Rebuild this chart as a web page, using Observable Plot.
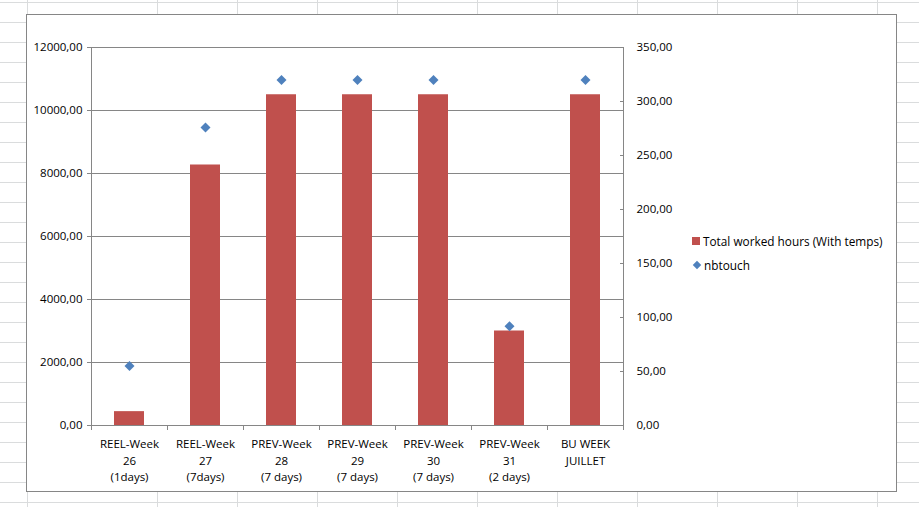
<!DOCTYPE html>
<html>
<head>
<meta charset="utf-8">
<script src="https://cdn.jsdelivr.net/npm/d3@7"></script>
<script src="https://cdn.jsdelivr.net/npm/@observablehq/plot@0.6"></script>
<style>
  html, body { margin: 0; padding: 0; background: #fff; }
  #page { position: relative; width: 919px; height: 507px; overflow: hidden; font-family: "Open Sans", sans-serif; }
  #rows { position: absolute; left: 0; top: 0; width: 919px; height: 507px;
    background-image: linear-gradient(to bottom, #dadcdd 1px, transparent 1px);
    background-size: 100% 20px; background-position: 0 2px; }
  #cols { position: absolute; left: 157px; top: 0; width: 762px; height: 507px;
    background-image: linear-gradient(to right, #dadcdd 1px, transparent 1px);
    background-size: 80px 100%; background-position: 0 0; }
  #col1 { position: absolute; left: 27px; top: 0; width: 1px; height: 507px; background: #dadcdd; }
  #frame { position: absolute; left: 26px; top: 14px; width: 869px; height: 476px; background: #fff; border: 1px solid #868686; }
  #chart { position: absolute; left: 27px; top: 14px; }
  #legend { position: absolute; left: 692px; top: 229px; font-size: 11.8px; color: #000; line-height: 24px; }
  #legend .item { display: flex; align-items: center; white-space: nowrap; }
  #legend .sq { width: 8px; height: 8px; background: #C0504D; margin-right: 3px; }
  #legend .dm { width: 6px; height: 6px; background: #4F81BD; transform: rotate(45deg); margin: 0 4px 0 2px; }
</style>
</head>
<body>
<div id="page">
  <div id="rows"></div>
  <div id="cols"></div>
  <div id="col1"></div>
  <div id="frame"></div>
  <div id="chart"></div>
  <div id="legend">
    <div class="item"><span class="sq"></span><span>Total worked hours (With temps)</span></div>
    <div class="item"><span class="dm"></span><span>nbtouch</span></div>
  </div>
</div>
<script>
const categories = [
  "REEL-Week\n26\n(1days)",
  "REEL-Week\n27\n(7days)",
  "PREV-Week\n28\n(7 days)",
  "PREV-Week\n29\n(7 days)",
  "PREV-Week\n30\n(7 days)",
  "PREV-Week\n31\n(2 days)",
  "BU WEEK\nJUILLET"
];
const hours = [440, 8270, 10500, 10500, 10500, 3000, 10500];
const nbtouch = [55, 276, 320, 320, 320, 92, 320];
const leftTicks = [0, 2000, 4000, 6000, 8000, 10000, 12000];
const rightTicks = [0, 50, 100, 150, 200, 250, 300, 350];

const leftMax = 12000, rightMax = 350;
const k = leftMax / rightMax;
const fmt = v => (Math.round(v * 100) / 100).toFixed(2).replace(".", ",");

const data = categories.map((c, i) => ({cat: c, hours: hours[i], touch: nbtouch[i]}));

const W = 640, H = 470, mL = 64, mR = 44, mT = 33, mB = 59;
const step = (W - mL - mR) / categories.length;
const grey = "#868686";

const chart = Plot.plot({
  width: W, height: H,
  marginLeft: mL, marginRight: mR, marginTop: mT, marginBottom: mB,
  style: {fontFamily: "Open Sans", fontSize: "11.5px", color: "#000", background: "transparent", overflow: "visible"},
  x: {domain: categories, paddingInner: 0.605, paddingOuter: 0.3025},
  y: {domain: [0, leftMax]},
  marks: [
    Plot.gridY(leftTicks, {stroke: grey, strokeOpacity: 1}),
    Plot.frame({stroke: grey}),
    Plot.barY(data, {x: "cat", y: "hours", fill: "#C0504D"}),
    Plot.dot(data, {x: "cat", y: d => d.touch * k, symbol: "square", r: 4, rotate: 45, fill: "#4F81BD", stroke: "none"}),
    Plot.ruleX(categories, {x: d => d, dx: -step / 2, y1: 0, y2: 0, insetBottom: -5, stroke: grey}),
    Plot.ruleX([categories[categories.length - 1]], {x: d => d, dx: step / 2, y1: 0, y2: 0, insetBottom: -5, stroke: grey}),
    Plot.axisY({ticks: leftTicks, tickFormat: fmt, tickSize: 4, tickPadding: 5, stroke: grey, label: null, fill: "#000"}),
    Plot.axisY({anchor: "right", ticks: rightTicks.map(v => v * k), tickFormat: v => fmt(v / k), tickSize: -4, tickPadding: 17, stroke: grey, label: null, fill: "#000"}),
    Plot.axisX({tickSize: 0, tickPadding: 11, lineHeight: 1.43, label: null, fill: "#000"})
  ]
});
document.getElementById("chart").appendChild(chart);
</script>
</body>
</html>
